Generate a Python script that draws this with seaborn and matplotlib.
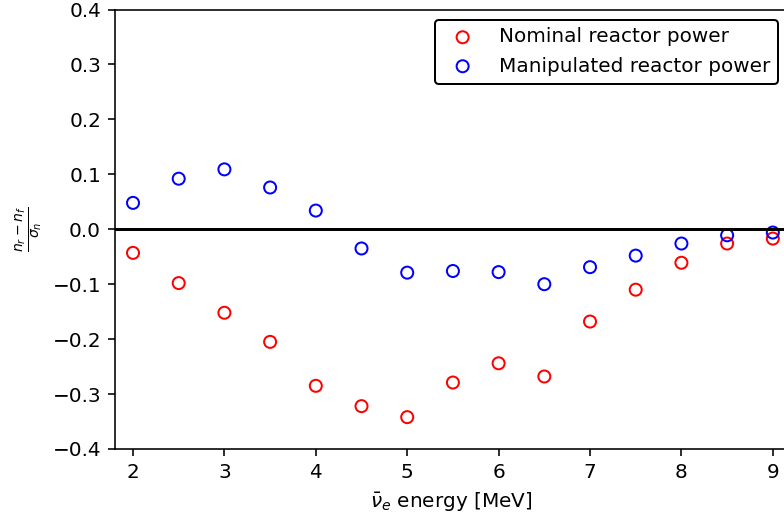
import matplotlib
matplotlib.use("Agg")
import matplotlib.pyplot as plt
import seaborn as sns
import pandas as pd

energy = [2.0, 2.5, 3.0, 3.5, 4.0, 4.5, 5.0, 5.5, 6.0, 6.5, 7.0, 7.5, 8.0, 8.5, 9.0]
nominal = [-0.043, -0.098, -0.152, -0.205, -0.285, -0.322, -0.342, -0.279, -0.244,
           -0.268, -0.168, -0.110, -0.061, -0.026, -0.017]
manipulated = [0.048, 0.092, 0.109, 0.076, 0.034, -0.035, -0.079, -0.076, -0.078,
               -0.100, -0.069, -0.048, -0.026, -0.011, -0.006]
series_names = ["Nominal reactor power", "Manipulated reactor power"]
series_colors = ["red", "blue"]
yticks = [-0.4, -0.3, -0.2, -0.1, 0.0, 0.1, 0.2, 0.3, 0.4]
xticks = [2, 3, 4, 5, 6, 7, 8, 9]

sns.set_style("ticks")
plt.rcParams["font.family"] = ["DejaVu Sans"]
plt.rcParams.update({
    "font.size": 10,
    "axes.edgecolor": "black",
    "xtick.color": "black",
    "ytick.color": "black",
    "text.color": "black",
    "axes.labelcolor": "black",
    "axes.linewidth": 0.8,
})

dpi = 144
fig = plt.figure(figsize=(784 / dpi, 517 / dpi), dpi=dpi)
ax = fig.add_axes([115 / 784, 68 / 517, (788 - 115) / 784, (449 - 9.5) / 517])

for vals, name, col in zip([nominal, manipulated], series_names, series_colors):
    df = pd.DataFrame({"energy": energy, "value": vals})
    sns.scatterplot(data=df, x="energy", y="value", ax=ax, marker="o", s=36,
                    facecolors="none", edgecolor=col, linewidths=1.0, label=name)

ax.axhline(0, color="black", lw=1.5, zorder=1)
ax.set_xlim(1.803, 9.166)
ax.set_ylim(-0.4, 0.4)
ax.set_xticks(xticks)
ax.set_yticks(yticks)
ax.set_yticklabels([f"{v:.1f}".replace("-", "\u2212") for v in yticks])
ax.tick_params(direction="out", length=3.5, width=0.8, labelsize=10)
ax.set_xlabel(r"$\bar{\nu}_e$ energy [MeV]", fontsize=10)
ax.set_ylabel(r"$\frac{n_r - n_f}{\sigma_n}$", fontsize=10)
ax.legend(loc="upper right", fontsize=10, frameon=True, edgecolor="black",
          fancybox=True, framealpha=1)
sns.despine(ax=ax, top=False, right=False)

fig.savefig("out.png", dpi=dpi)
